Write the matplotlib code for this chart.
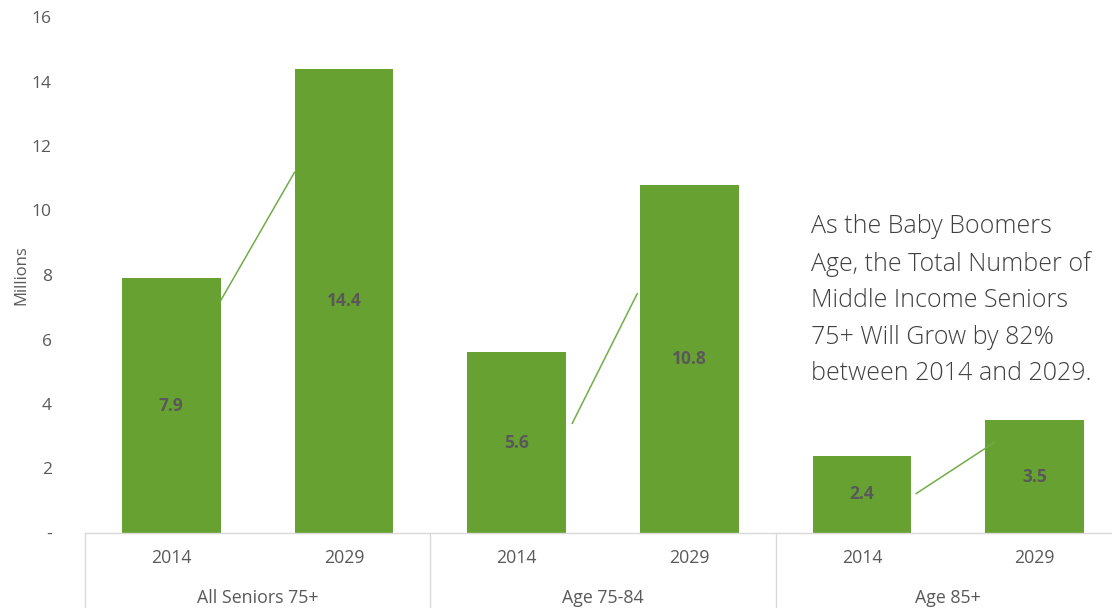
import matplotlib
matplotlib.use("Agg")
import matplotlib.pyplot as plt

# ---- data ----
groups = ["All Seniors 75+", "Age 75-84", "Age 85+"]
years = ["2014", "2029"]
values = [7.9, 14.4, 5.6, 10.8, 2.4, 3.5]
value_labels = ["7.9", "14.4", "5.6", "10.8", "2.4", "3.5"]
ytick_vals = [0, 2, 4, 6, 8, 10, 12, 14, 16]
ytick_labels = ["-", "2", "4", "6", "8", "10", "12", "14", "16"]
# decorative connector lines (x in slot units, y in data units)
connectors = [((0.285, 7.2), (0.715, 11.2)),
              ((2.32, 3.38), (2.70, 7.44)),
              ((4.31, 1.21), (4.77, 2.82))]
note = ("As the Baby Boomers\nAge, the Total Number of\nMiddle Income Seniors\n"
        "75+ Will Grow by 82%\nbetween 2014 and 2029.")

green = "#67A131"
grey = "#595959"
light = "#D9D9D9"

plt.rcParams['font.family'] = ['Open Sans', 'DejaVu Sans']

W, H = 1112, 608
fig = plt.figure(figsize=(W / 100, H / 100), dpi=100)
ax_left, ax_right = 85, 1121
ax_top, ax_bot = 17, 533
ax = fig.add_axes([ax_left / W, (H - ax_bot) / H, (ax_right - ax_left) / W, (ax_bot - ax_top) / H])

x = list(range(len(values)))
ax.bar(x, values, width=0.57, color=green, zorder=2)
for xi, v, lab in zip(x, values, value_labels):
    ax.text(xi, v / 2, lab, ha="center", va="center", color=grey, fontsize=12.5,
            fontweight="bold", zorder=3)

for (x0, y0), (x1, y1) in connectors:
    ax.plot([x0, x1], [y0, y1], color="#70AD47", lw=1.1, zorder=4, solid_capstyle="butt")

ax.set_xlim(-0.5, len(values) - 0.5)
ax.set_ylim(0, 16)
ax.set_yticks(ytick_vals)
ax.set_yticklabels(ytick_labels)
ax.tick_params(axis="y", length=0, pad=24, labelsize=12.5, labelcolor=grey)
ax.set_xticks([])
for s in ["top", "right", "left"]:
    ax.spines[s].set_visible(False)
ax.spines["bottom"].set_color(light)
ax.spines["bottom"].set_linewidth(1)

ax.set_ylabel("Millions", color=grey, fontsize=12, labelpad=2)

# two-level category axis
trans = ax.get_xaxis_transform()
px = 1.0 / (ax_bot - ax_top)  # one pixel in axes-y units
for i in range(len(groups) + 1):
    xs = -0.5 + 2 * i
    ax.plot([xs, xs], [0, -80 * px], color=light, lw=1, transform=trans, clip_on=False)
for xi in x:
    ax.text(xi, -25 * px, years[xi % 2], ha="center", va="center", transform=trans,
            color=grey, fontsize=12.8)
for gi, g in enumerate(groups):
    ax.text(2 * gi + 0.5, -65 * px, g, ha="center", va="center", transform=trans,
            color=grey, fontsize=12.8)

fig.text(811 / W, 1 - 214 / H, note, ha="left", va="top", fontsize=18.0,
         color="#404040", fontweight="light", linespacing=1.6)

fig.savefig("out.png", dpi=100)
